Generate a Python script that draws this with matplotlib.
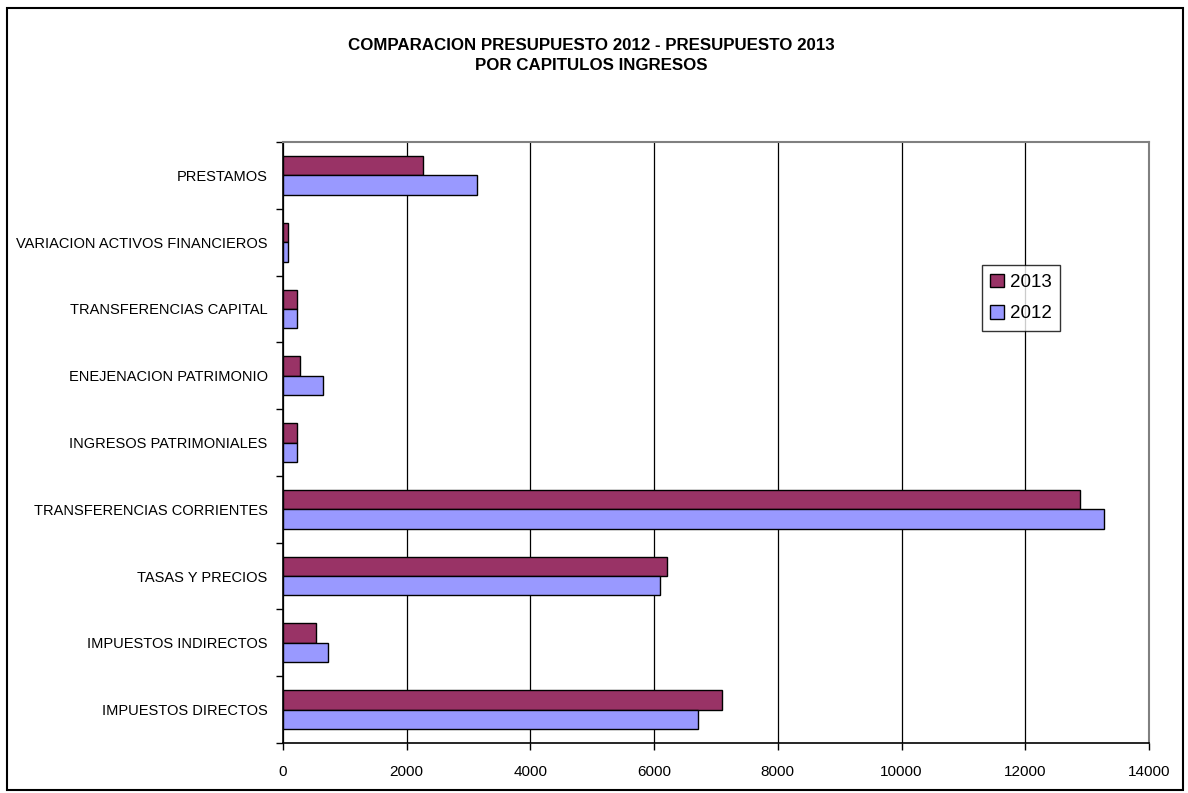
import numpy as np
import matplotlib
matplotlib.use('Agg')
import matplotlib.pyplot as plt
from matplotlib.patches import Rectangle

plt.rcParams['font.family'] = ['Liberation Sans', 'DejaVu Sans']

# categories bottom to top
categorias = ['IMPUESTOS DIRECTOS', 'IMPUESTOS INDIRECTOS', 'TASAS Y PRECIOS',
              'TRANSFERENCIAS CORRIENTES', 'INGRESOS PATRIMONIALES',
              'ENEJENACION PATRIMONIO', 'TRANSFERENCIAS CAPITAL',
              'VARIACION ACTIVOS FINANCIEROS', 'PRESTAMOS']
valores_2013 = [7095, 530, 6215, 12890, 230, 280, 230, 80, 2260]
valores_2012 = [6715, 728, 6090, 13280, 230, 641, 230, 80, 3140]
xticks = [0, 2000, 4000, 6000, 8000, 10000, 12000, 14000]

col_2013 = '#993366'
col_2012 = '#9999FF'

fig = plt.figure(figsize=(11.88, 7.93), dpi=100)
ax = fig.add_axes([283 / 1188, 1 - 743 / 793, 866 / 1188, 601 / 793])

y = np.arange(len(categorias))
h = 0.29
ax.barh(y + h / 2, valores_2013, height=h, color=col_2013, edgecolor='black',
        linewidth=1.0, label='2013', zorder=3)
ax.barh(y - h / 2, valores_2012, height=h, color=col_2012, edgecolor='black',
        linewidth=1.0, label='2012', zorder=3)

ax.set_xlim(0, 14000)
ax.set_ylim(-0.5, len(categorias) - 0.5)
ax.set_xticks(xticks)
ax.set_xticklabels([str(v) for v in xticks], fontsize=11)
ax.tick_params(axis='x', length=5, width=1, pad=11, direction='out')

# category labels between boundary ticks, as in Excel
ax.set_yticks(np.arange(-0.5, len(categorias), 1.0))
ax.set_yticklabels([])
ax.set_yticks(y, minor=True)
ax.set_yticklabels(categorias, minor=True, fontsize=10.5)
ax.tick_params(axis='y', which='major', length=5, width=1, direction='out')
ax.tick_params(axis='y', which='minor', length=0, pad=11)

ax.xaxis.grid(True, color='black', linewidth=0.9, zorder=0)
ax.set_axisbelow(True)
for s in ['top', 'right']:
    ax.spines[s].set_color('#808080')
    ax.spines[s].set_linewidth(1.5)
for s in ['left', 'bottom']:
    ax.spines[s].set_color('black')
    ax.spines[s].set_linewidth(1.2)

fig.text(591 / 1188, 1 - 45 / 793, 'COMPARACION PRESUPUESTO 2012 - PRESUPUESTO 2013',
         ha='center', va='center', fontsize=12.2, fontweight='bold')
fig.text(591 / 1188, 1 - 66 / 793, 'POR CAPITULOS INGRESOS',
         ha='center', va='center', fontsize=12.2, fontweight='bold')

leg = fig.legend(loc='center', bbox_to_anchor=(1021 / 1188, 1 - 298 / 793),
                 fontsize=13.5, frameon=True, fancybox=False, handlelength=0.75,
                 handleheight=0.75, handletextpad=0.3, borderpad=0.45,
                 labelspacing=0.75, borderaxespad=0)
leg.get_frame().set_edgecolor('black')
leg.get_frame().set_linewidth(1.0)

fig.patches.append(Rectangle((7 / 1188, 3 / 793), 1176 / 1188, 782 / 793,
                             transform=fig.transFigure, fill=False,
                             edgecolor='black', linewidth=1.5))

fig.savefig('out.png', dpi=100)
